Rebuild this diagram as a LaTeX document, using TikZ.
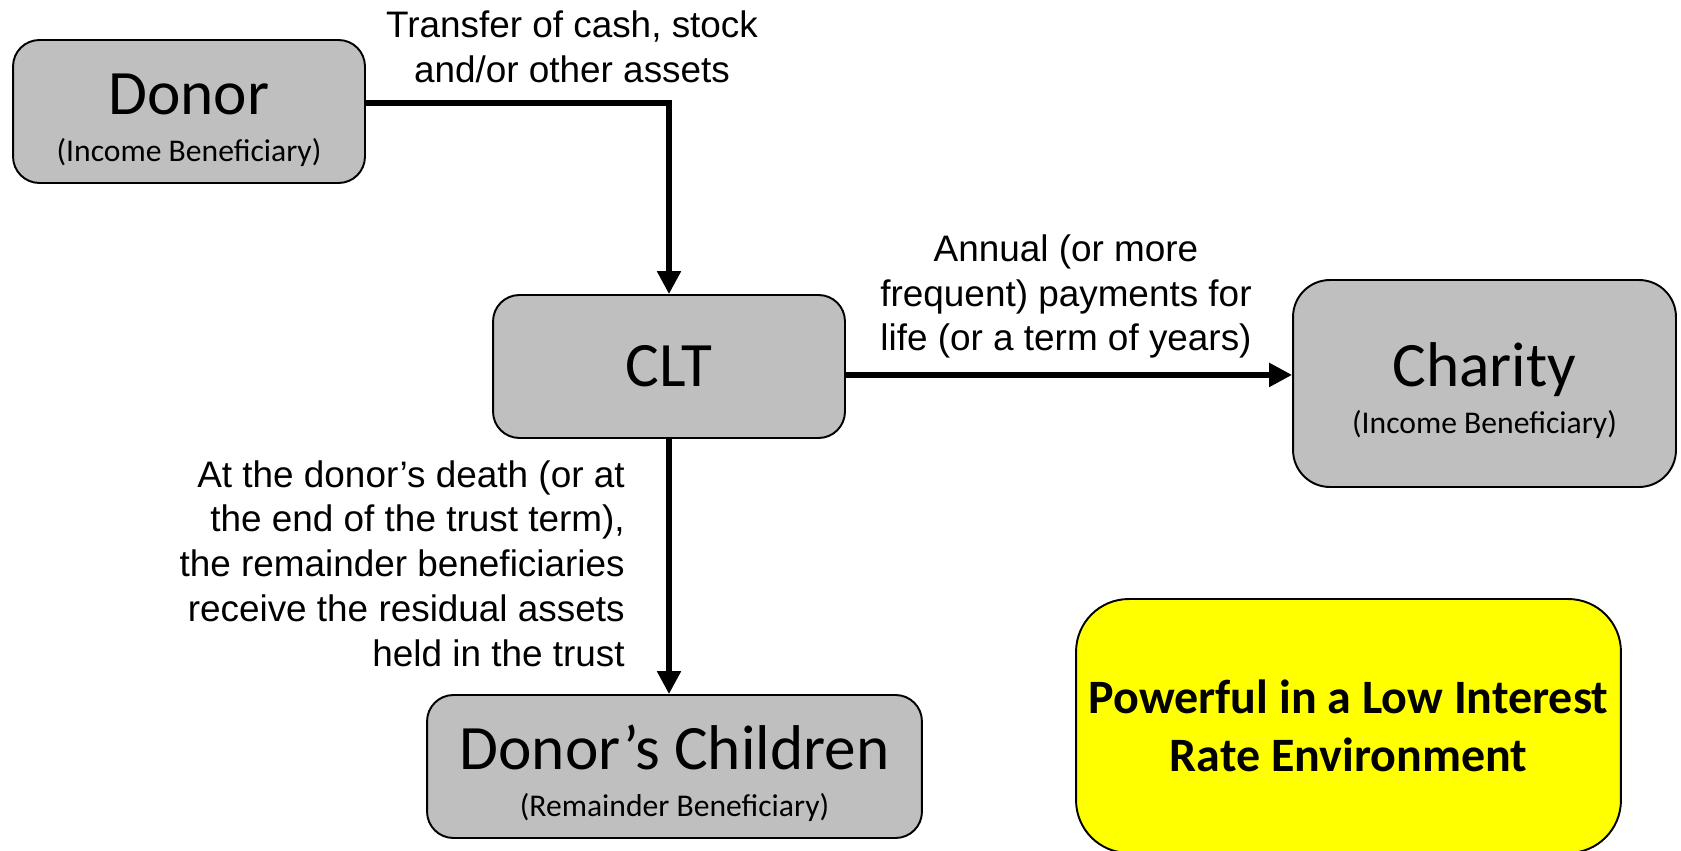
\documentclass[tikz,border=0pt]{standalone}
\usepackage{fontspec}
\setmainfont{Carlito}
\newfontfamily\arialfont{Liberation Sans}
\usetikzlibrary{arrows.meta,positioning}

\definecolor{boxgray}{HTML}{BFBFBF}
\definecolor{hiyellow}{HTML}{FFFF00}

\tikzset{
  party/.style={draw=black, line width=1.1pt, fill=boxgray, rounded corners=15pt,
    align=center, inner sep=0pt, font=\fontsize{18}{27}\selectfont},
  twoline/.style={text height=60pt},
  flow/.style={line width=3pt, -{Triangle[length=13pt,width=13pt]}},
  note/.style={font=\arialfont\fontsize{21}{25.5}\selectfont, inner sep=0pt},
}
\newcommand{\mainname}[1]{{\fontsize{36}{40}\selectfont #1}}
\newcommand{\rolename}[1]{{\fontsize{18}{21}\selectfont #1}}

\begin{document}
\begin{tikzpicture}[x=0.02cm, y=-0.02cm]
    \useasboundingbox (0,0) rectangle (1681,851);

    % the parties
    \node[party, twoline, minimum width=7.04cm, minimum height=2.86cm] (donor) at (189,111.5)
        {\mainname{Donor}\\\rolename{(Income Beneficiary)}};
    \node[party, minimum width=7.04cm, minimum height=2.86cm] (clt) at (669,366.5)
        {\mainname{CLT}};
    \node[party, twoline, rounded corners=21pt, minimum width=7.66cm, minimum height=4.14cm] (charity) at (1484.5,383.5)
        {\mainname{Charity}\\\rolename{(Income Beneficiary)}};
    \node[party, twoline, minimum width=9.9cm, minimum height=2.86cm] (kids) at (674.5,766.5)
        {\mainname{Donor’s Children}\\\rolename{(Remainder Beneficiary)}};

    % highlight box (runs off the bottom edge)
    \node[draw=black, line width=1.1pt, fill=hiyellow, rounded corners=30pt, align=center,
          minimum width=10.9cm, minimum height=5.08cm,
          font=\bfseries\fontsize{27.3}{33}\selectfont] (lowrate) at (1348.5,726)
        {Powerful in a Low Interest\\Rate Environment};

    % flows
    \draw[flow] ([yshift=4.8pt]donor.east) -| (clt.north);
    \coordinate (payout) at ([yshift=-4.8pt]clt.east);
    \draw[flow] (payout) -- (payout -| charity.west);
    \draw[flow] (clt.south) -- (clt.south |- kids.north);

    % flow labels
    \node[note, align=center] (xfer) at (572,47)
        {Transfer of cash, stock\\and/or other assets};
    \node[note, align=center] (annual) at (1066,296.5)
        {Annual (or more\\frequent) payments for\\life (or a term of years)};
    \node[note, align=right, anchor=east] (residual) at (625,563.5)
        {At the donor’s death (or at\\the end of the trust term),\\the remainder beneficiaries\\receive the residual assets\\held in the trust};
\end{tikzpicture}
\end{document}
